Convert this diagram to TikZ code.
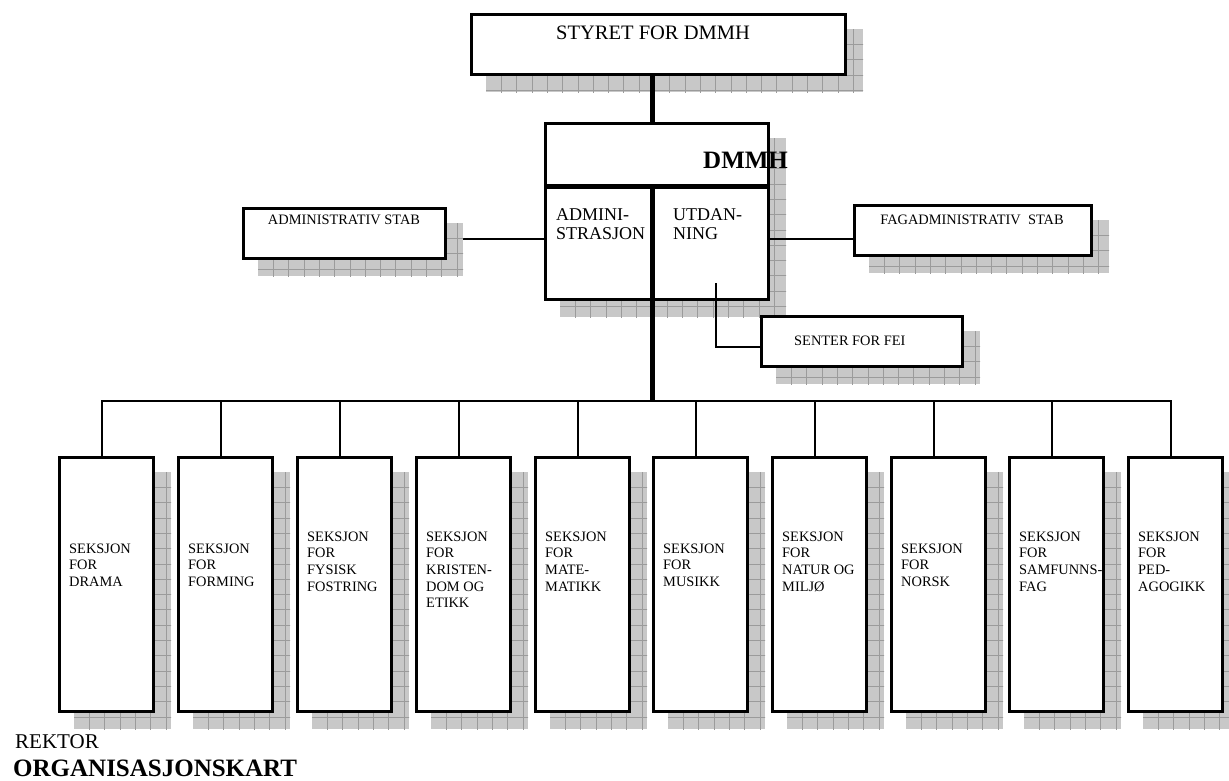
\documentclass[tikz,border=0pt]{standalone}
\usepackage{fontspec}
\setmainfont{Liberation Serif}
\usetikzlibrary{calc,backgrounds}
\definecolor{shadowfill}{RGB}{200,200,200}
\definecolor{gridcol}{RGB}{155,155,155}
\newcommand{\mkshadow}[1]{%
  \begin{scope}
    \path ($(#1.north west)+(16,16)$) coordinate (sa) ($(#1.south east)+(16,16)$) coordinate (sb);
    \clip (sa) rectangle (sb);
    \fill[shadowfill] (sa) rectangle (sb);
    \foreach \k in {1,...,26} {
      \draw[gridline] ($(sa)+(\k*15.3,0)$) -- ++(0,300);
      \draw[gridline] ($(sa)+(0,\k*15.3)$) -- ++(400,0);
    }
  \end{scope}}
\tikzset{
  box/.style={draw=black, fill=white, line width=3pt, rectangle, inner sep=0pt, anchor=north west},
  gridline/.style={draw=gridcol, line width=0.6pt},
  conn/.style={draw=black, line width=2pt},
  spineline/.style={draw=black, line width=5pt},
  lab/.style={inner sep=0pt, font=\fontsize{14.4}{16.7}\selectfont},
  midlab/.style={inner sep=0pt, font=\fontsize{18}{19.3}\selectfont},
}
\begin{document}
\begin{tikzpicture}[x=1pt,y=-1pt]
\useasboundingbox (0,0) rectangle (1229,780);

% boxes
\node[box, minimum width=374, minimum height=60] (styret) at (470,13) {};
\node[box, minimum width=223, minimum height=176] (dmmh) at (544,122) {};
\node[box, minimum width=202, minimum height=50] (admstab) at (242,207) {};
\node[box, minimum width=237, minimum height=50] (fagstab) at (853,204) {};
\node[box, minimum width=201, minimum height=50] (senter) at (760,315) {};
\foreach \i/\L in {1/58,2/177,3/296,4/415,5/534,6/652,7/771,8/890,9/1008,10/1127} {
  \node[box, minimum width=94, minimum height=254] (b\i) at (\L,456) {};
}

% helper coordinates
\coordinate (spine) at (652,401);
\coordinate (divy) at (652,186);
\coordinate (sidey) at (652,239);
\coordinate (fei) at (716,283);
\coordinate (feiy) at (716,347);

% background: shadows and hidden connector
\begin{scope}[on background layer]
  \fill[white] (0,0) rectangle (1229,780);
  \draw[conn] (admstab.east |- sidey) -- (dmmh.west |- sidey);
  \mkshadow{styret}
  \mkshadow{dmmh}
  \mkshadow{admstab}
  \mkshadow{fagstab}
  \mkshadow{senter}
  \foreach \i in {1,...,10} {\mkshadow{b\i}}
\end{scope}

% connectors
\draw[spineline] (styret.south -| spine) -- (dmmh.north -| spine);
\draw[spineline] (dmmh.west |- divy) -- (dmmh.east |- divy);
\draw[spineline] (divy) -- (spine);
\draw[conn] (dmmh.east |- sidey) -- (fagstab.west |- sidey);
\draw[conn] (fei) -- (feiy) -- (senter.west |- feiy);
\draw[conn] ([xshift=-5pt]b1.north) -- ([xshift=-5pt]b1.north |- spine) -- ([xshift=-5pt]b10.north |- spine) -- ([xshift=-5pt]b10.north);
\foreach \i in {2,...,9} {
  \draw[conn] ([xshift=-5pt]b\i.north) -- ([xshift=-5pt]b\i.north |- spine);
}

% texts
\node[inner sep=0pt, anchor=base, font=\fontsize{20.5}{24}\selectfont] (tstyret) at (653,39) {STYRET FOR DMMH};
\node[inner sep=0pt, anchor=base west, font=\bfseries\fontsize{25}{28}\selectfont] (tdmmh) at (703,168) {DMMH};
\node[midlab, anchor=base west] (tadm) at (556,220) {\begin{tabular}[t]{@{}l@{}}ADMINI-\\STRASJON\end{tabular}};
\node[midlab, anchor=base west] (tutd) at (673,220) {\begin{tabular}[t]{@{}l@{}}UTDAN-\\NING\end{tabular}};
\node[lab, anchor=base] (tadmstab) at (344,224) {ADMINISTRATIV STAB};
\node[lab, anchor=base] (tfagstab) at (972,224) {FAGADMINISTRATIV\ \ STAB};
\node[lab, anchor=base west] (tsenter) at (794,345) {SENTER FOR FEI};

\node[lab, anchor=base west] (tb1) at (69,553) {\begin{tabular}[t]{@{}l@{}}SEKSJON\\FOR\\DRAMA\end{tabular}};
\node[lab, anchor=base west] (tb2) at (188,553) {\begin{tabular}[t]{@{}l@{}}SEKSJON\\FOR\\FORMING\end{tabular}};
\node[lab, anchor=base west] (tb3) at (307,541) {\begin{tabular}[t]{@{}l@{}}SEKSJON\\FOR\\FYSISK\\FOSTRING\end{tabular}};
\node[lab, anchor=base west] (tb4) at (426,541) {\begin{tabular}[t]{@{}l@{}}SEKSJON\\FOR\\KRISTEN-\\DOM OG\\ETIKK\end{tabular}};
\node[lab, anchor=base west] (tb5) at (545,541) {\begin{tabular}[t]{@{}l@{}}SEKSJON\\FOR\\MATE-\\MATIKK\end{tabular}};
\node[lab, anchor=base west] (tb6) at (663,553) {\begin{tabular}[t]{@{}l@{}}SEKSJON\\FOR\\MUSIKK\end{tabular}};
\node[lab, anchor=base west] (tb7) at (782,541) {\begin{tabular}[t]{@{}l@{}}SEKSJON\\FOR\\NATUR OG\\MILJØ\end{tabular}};
\node[lab, anchor=base west] (tb8) at (901,553) {\begin{tabular}[t]{@{}l@{}}SEKSJON\\FOR\\NORSK\end{tabular}};
\node[lab, anchor=base west] (tb9) at (1019,541) {\begin{tabular}[t]{@{}l@{}}SEKSJON\\FOR\\SAMFUNNS-\\FAG\end{tabular}};
\node[lab, anchor=base west] (tb10) at (1138,541) {\begin{tabular}[t]{@{}l@{}}SEKSJON\\FOR\\PED-\\AGOGIKK\end{tabular}};

\node[inner sep=0pt, anchor=base west, font=\fontsize{21}{24}\selectfont] (trektor) at (15,748) {REKTOR};
\node[inner sep=0pt, anchor=base west, font=\bfseries\fontsize{25}{28}\selectfont] (torg) at (13,776) {ORGANISASJONSKART};
\end{tikzpicture}
\end{document}
